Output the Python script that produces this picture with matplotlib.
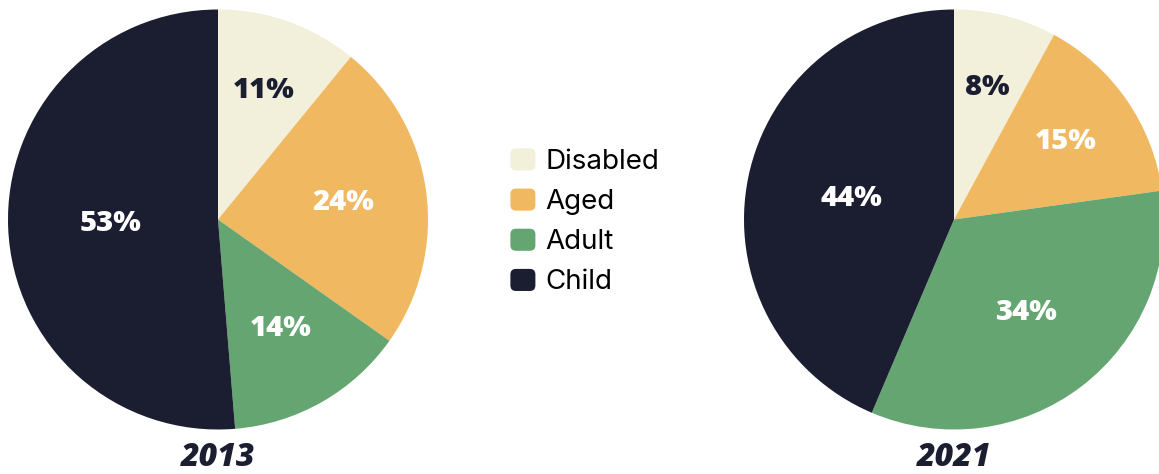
import matplotlib.pyplot as plt
from matplotlib.patches import FancyBboxPatch, Patch
from matplotlib.legend_handler import HandlerPatch

# Data
categories = ['Disabled', 'Aged', 'Adult', 'Child']
shares_2013 = [10.9, 23.9, 13.9, 51.3]
labels_2013 = ['11%', '24%', '14%', '53%']
shares_2021 = [7.9, 14.9, 33.6, 43.6]
labels_2021 = ['8%', '15%', '34%', '44%']

colors = ['#F2EFDA', '#F0B961', '#64A571', '#1B1D31']
text_colors = ['#1B1D31', 'white', 'white', 'white']
dark = '#1B1D31'

W, H = 1159, 474
fig = plt.figure(figsize=(W / 100, H / 100), dpi=100)


class RoundHandler(HandlerPatch):
    def create_artists(self, legend, orig_handle, xdescent, ydescent,
                       width, height, fontsize, trans):
        p = FancyBboxPatch((-xdescent + 1, -ydescent + 1), width - 2, height - 2,
                           boxstyle='round,pad=0,rounding_size=4',
                           facecolor=orig_handle.get_facecolor(),
                           edgecolor='none', transform=trans)
        return [p]


def draw_pie(cx, cy, r, shares, labels, dists, year):
    ax = fig.add_axes([(cx - r) / W, (H - cy - r) / H, 2 * r / W, 2 * r / H])
    wedges, texts, autotexts = ax.pie(
        shares, colors=colors, startangle=90, counterclock=False,
        autopct='%1.0f%%', pctdistance=0.6, radius=1,
        wedgeprops=dict(linewidth=0))
    for i, t in enumerate(autotexts):
        x, y = t.get_position()
        f = dists[i] / 0.6
        t.set_position((x * f, y * f))
        t.set_text(labels[i])
        t.set_color(text_colors[i])
        t.set_fontsize(21)
        t.set_fontweight(800)
        t.set_family(['Open Sans', 'DejaVu Sans'])
    ax.set_xlim(-1, 1)
    ax.set_ylim(-1, 1)
    ax.axis('off')
    ax.text(0, -1.135, year, ha='center', va='center', fontsize=23,
            fontweight=800, fontstyle='italic', color=dark,
            family=['Open Sans', 'DejaVu Sans'], clip_on=False)


draw_pie(218, 219.5, 210, shares_2013, labels_2013, [0.65, 0.6, 0.6, 0.51], '2013')
draw_pie(954, 219.5, 210, shares_2021, labels_2021, [0.65, 0.65, 0.56, 0.5], '2021')

handles = [Patch(facecolor=c) for c in colors]
fig.legend(handles, categories, loc='upper left',
           bbox_to_anchor=(509 / W, 1 - 147 / H), frameon=False,
           borderpad=0, borderaxespad=0, handlelength=1.0, handleheight=1.0,
           handletextpad=0.3, labelspacing=0.44,
           prop={'family': 'Inter', 'size': 20},
           handler_map={Patch: RoundHandler()})

fig.savefig('out.png', dpi=100)
